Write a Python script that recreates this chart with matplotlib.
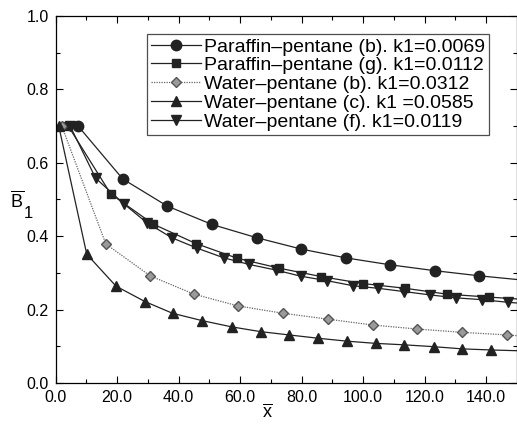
import numpy as np
import matplotlib
matplotlib.use("Agg")
import matplotlib.pyplot as plt

plt.rcParams['font.family'] = 'Liberation Sans'
plt.rcParams['mathtext.fontset'] = 'custom'
plt.rcParams['mathtext.rm'] = 'Liberation Sans'
plt.rcParams['mathtext.it'] = 'Liberation Sans'

# Paraffin-pentane (b), circles
x_pb = [7.3, 21.8, 36.3, 50.8, 65.3, 79.8, 94.3, 108.8, 123.3, 137.8, 150.0]
y_pb = [0.700, 0.556, 0.482, 0.432, 0.396, 0.365, 0.341, 0.322, 0.306, 0.292, 0.282]

# Paraffin-pentane (g), squares
x_pg = [4.1, 17.9, 31.7, 45.6, 59.0, 72.6, 86.3, 99.9, 113.7, 127.3, 141.0, 150.0]
y_pg = [0.700, 0.515, 0.433, 0.380, 0.340, 0.313, 0.290, 0.271, 0.258, 0.242, 0.234, 0.229]

# Water-pentane (b), diamonds
x_wb = [2.0, 16.3, 30.7, 45.0, 59.3, 73.9, 88.5, 103.1, 117.6, 132.2, 146.8, 150.0]
y_wb = [0.700, 0.379, 0.292, 0.242, 0.210, 0.190, 0.174, 0.158, 0.147, 0.138, 0.131, 0.129]

# Water-pentane (c), up triangles
x_wc = [1.0, 10.1, 19.6, 29.0, 38.0, 47.6, 57.2, 66.6, 75.9, 85.3, 94.7, 104.0,
        113.4, 122.9, 132.2, 141.6, 150.0]
y_wc = [0.700, 0.351, 0.264, 0.222, 0.190, 0.170, 0.153, 0.140, 0.131, 0.122, 0.114,
        0.108, 0.104, 0.099, 0.093, 0.090, 0.088]

# Water-pentane (f), down triangles
x_wf = [4.7, 13.0, 22.2, 29.6, 37.7, 46.1, 54.7, 62.9, 71.5, 79.7, 88.1, 96.7, 104.9,
        113.4, 121.8, 130.2, 138.7, 147.0, 150.0]
y_wf = [0.700, 0.558, 0.488, 0.437, 0.396, 0.367, 0.341, 0.323, 0.308, 0.291, 0.279,
        0.265, 0.258, 0.249, 0.240, 0.232, 0.227, 0.220, 0.218]

labels = ["Paraffin\u2013pentane (b). k1=0.0069",
          "Paraffin\u2013pentane (g). k1=0.0112",
          "Water\u2013pentane (b). k1=0.0312",
          "Water\u2013pentane (c). k1 =0.0585",
          "Water\u2013pentane (f). k1=0.0119"]

x_ticks = [0, 20, 40, 60, 80, 100, 120, 140]
y_ticks = [0.0, 0.2, 0.4, 0.6, 0.8, 1.0]

fig = plt.figure(figsize=(5.17, 4.25), dpi=100)
ax = fig.add_axes([0.1077, 0.0988, 0.8923, 0.8636])

ax.plot(x_pb, y_pb, color='#222222', lw=0.9, marker='o', ms=7.5,
        markevery=slice(0, -1), label=labels[0])
ax.plot(x_pg, y_pg, color='#222222', lw=0.9, marker='s', ms=6,
        markevery=slice(0, -1), label=labels[1])
ax.plot(x_wb, y_wb, color='#666666', lw=0.9, ls=(0, (1, 1)), marker='D', ms=5.5,
        mfc='#9a9a9a', mec='#555555', markevery=slice(0, -1), label=labels[2])
ax.plot(x_wc, y_wc, color='#222222', lw=0.9, marker='^', ms=7,
        markevery=slice(0, -1), label=labels[3])
ax.plot(x_wf, y_wf, color='#222222', lw=0.9, marker='v', ms=7,
        markevery=slice(0, -1), label=labels[4])

ax.set_xlim(0, 150)
ax.set_ylim(0, 1.0)
ax.set_xticks(x_ticks)
ax.set_xticklabels(["%.1f" % v for v in x_ticks])
ax.set_yticks(y_ticks)
ax.set_yticklabels(["%.1f" % v for v in y_ticks])
ax.set_xticks(np.arange(10, 150, 20), minor=True)
ax.set_yticks(np.arange(0.1, 1.0, 0.2), minor=True)
ax.tick_params(which='both', direction='in', top=True, right=True,
               labelsize=11.5, width=0.8)
ax.tick_params(which='major', length=5, pad=5)
ax.tick_params(which='minor', length=3)
for s in ax.spines.values():
    s.set_linewidth(0.9)

fig.text(0.02, 0.528, r'$\overline{\mathrm{B}}$', fontsize=13, ha='left', va='center')
fig.text(0.045, 0.497, '1', fontsize=12, ha='left', va='center')
fig.text(0.518, 0.03, r'$\overline{\mathrm{x}}$', fontsize=13, ha='center', va='center')

leg = ax.legend(loc='upper left', bbox_to_anchor=(147 / 517, 1 - 34 / 425),
                bbox_transform=fig.transFigure, fontsize=14, frameon=True,
                fancybox=False, edgecolor='#222222', handlelength=2.6,
                handletextpad=0.15, labelspacing=0.06, borderpad=0.2,
                borderaxespad=0)
leg.get_frame().set_linewidth(0.9)

fig.savefig("out.png", dpi=100)
